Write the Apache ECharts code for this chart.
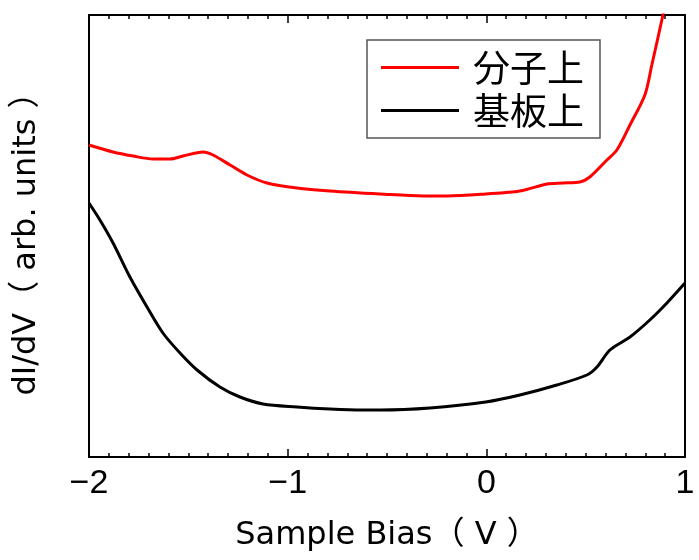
<!DOCTYPE html>
<html>
<head>
<meta charset="utf-8">
<script src="https://cdn.jsdelivr.net/npm/echarts@6/dist/echarts.min.js"></script>
<style>html,body{margin:0;padding:0;background:#fff}#c{width:699px;height:560px}</style>
</head>
<body>
<div id="c"></div>
<script>
// Sample bias (V) and dI/dV (arb. units)
const redX = [-2.0,-1.879,-1.779,-1.678,-1.592,-1.527,-1.426,-1.376,-1.290,-1.205,-1.104,-0.953,-0.787,-0.535,-0.319,-0.198,-0.003,0.169,0.305,0.386,0.471,0.521,0.607,0.657,0.723,0.798,0.833,0.889,0.904];
const redY = [312,305,301,298,298,301,305,302,292,282,274,269,266,263,261,261,263,266,273,274,275,280,297,307,332,362,392,442,457];
const blackX = [-2.0,-1.945,-1.879,-1.794,-1.708,-1.628,-1.542,-1.456,-1.341,-1.240,-1.124,-0.953,-0.787,-0.621,-0.535,-0.284,-0.003,0.169,0.355,0.506,0.557,0.622,0.723,0.823,0.909,1.0];
const blackY = [254,237,214,180,150,124,104,87,70,60,53,50,48,47,47,49,55,62,72,82,90,107,120,137,154,174];
const seriesNames = ['分子上','基板上'];
const xTicks = [-2,-1,0,1];

const zip = (a,b) => a.map((v,i)=>[v,b[i]]);
const nameFont = '"DejaVu Sans", "Noto Sans CJK JP", sans-serif';
const tickFont = '"Liberation Sans", "Noto Sans", sans-serif';
const cjkFont = '"Noto Sans CJK JP", sans-serif';
const chart = echarts.init(document.getElementById('c'), null, {renderer:'canvas'});
const axisCommon = {
  type:'value', min:xTicks[0], max:xTicks[xTicks.length-1], interval:1,
  axisLine:{show:true, onZero:false, lineStyle:{color:'#000', width:2}},
  axisTick:{show:true, inside:true, length:8, lineStyle:{color:'#000', width:1.5}},
  minorTick:{show:true, splitNumber:10, length:4, lineStyle:{color:'#000', width:1.5}},
  splitLine:{show:false}
};
chart.setOption({
  animation:false,
  grid:{left:89, right:14, top:15, bottom:103},
  legend:{
    orient:'vertical', left:367, top:40,
    padding:[9,16,9,14], itemGap:6,
    itemWidth:78, itemHeight:37,
    borderColor:'#555', borderWidth:1.5, backgroundColor:'#fff',
    icon:'path://M0,0 L78,0 L78,3 L0,3 Z',
    textStyle:{fontSize:37, lineHeight:37, color:'#000', fontFamily:cjkFont, padding:[0,0,0,9]},
    data:seriesNames
  },
  xAxis:[
    Object.assign({}, axisCommon, {
      position:'bottom',
      name:'Sample Bias（ V ）', nameLocation:'middle', nameGap:63,
      nameTextStyle:{fontSize:32, color:'#000', fontFamily:nameFont},
      axisLabel:{show:true, margin:10, fontSize:34, color:'#000', fontFamily:tickFont,
        formatter:v => v<0 ? '\u2212'+Math.abs(v) : String(v)}
    }),
    Object.assign({}, axisCommon, {position:'top', show:true, axisLabel:{show:false}})
  ],
  yAxis:[
    {type:'value', min:0, max:442, position:'left',
     name:'dI/dV（ arb. units ）', nameLocation:'middle', nameGap:46,
     nameTextStyle:{fontSize:32, color:'#000', fontFamily:nameFont},
     axisLine:{show:true, onZero:false, lineStyle:{color:'#000', width:2}},
     axisTick:{show:false}, axisLabel:{show:false}, splitLine:{show:false}},
    {type:'value', min:0, max:442, position:'right',
     axisLine:{show:true, onZero:false, lineStyle:{color:'#000', width:2}},
     axisTick:{show:false}, axisLabel:{show:false}, splitLine:{show:false}}
  ],
  series:[
    {name:seriesNames[0], type:'line', data:zip(redX, redY), smooth:0.3, showSymbol:false, clip:true,
     lineStyle:{color:'#ff0000', width:3}, itemStyle:{color:'#ff0000'}},
    {name:seriesNames[1], type:'line', data:zip(blackX, blackY), smooth:0.3, showSymbol:false, clip:true,
     lineStyle:{color:'#000', width:3}, itemStyle:{color:'#000'}}
  ]
});
</script>
</body>
</html>
